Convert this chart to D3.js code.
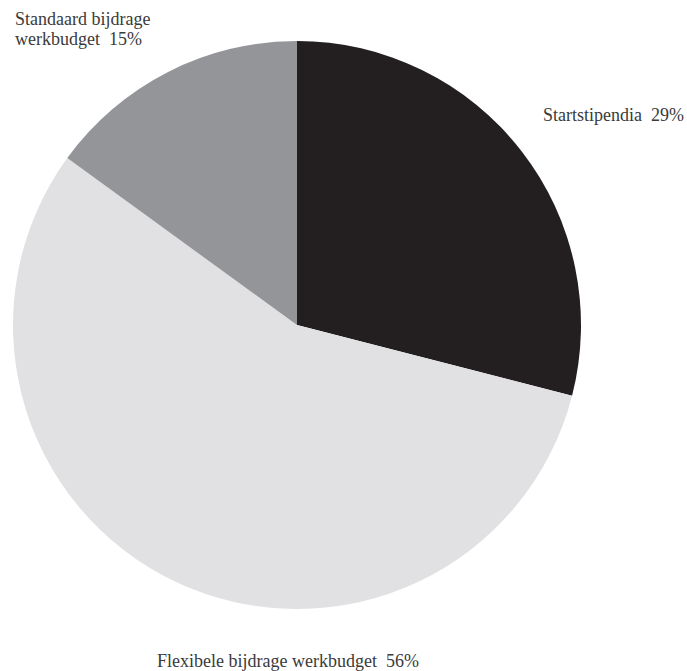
<!DOCTYPE html>
<html>
<head>
<meta charset="utf-8">
<script src="https://cdn.jsdelivr.net/npm/d3@7"></script>
<style>
  body { margin: 0; background: #fff; }
  text { font-family: "Liberation Serif", "DejaVu Serif", serif; fill: #3a3a3a; white-space: pre; }
</style>
</head>
<body>
<svg id="chart"></svg>
<script>
// data
var categories = ["Startstipendia", "Flexibele bijdrage werkbudget", "Standaard bijdrage werkbudget"];
var values = [29, 56, 15];
var colors = ["#231f20", "#e1e1e3", "#939598"];

var width = 687, height = 671;
var cx = 297, cy = 325, radius = 284;

var svg = d3.select("#chart")
    .attr("width", width)
    .attr("height", height);

var g = svg.append("g")
    .attr("transform", "translate(" + cx + "," + cy + ")");

var pie = d3.pie().sort(null).value(function (d) { return d; });
var arc = d3.arc().innerRadius(0).outerRadius(radius);

var slices = pie(values);

g.selectAll("path")
    .data(slices)
    .enter()
    .append("path")
    .attr("d", arc)
    .attr("fill", function (d, i) { return colors[i]; });

// labels: each one hangs off its slice, lines split by hand like the original
var labelLines = [
    ["Startstipendia  29%"],
    ["Flexibele bijdrage werkbudget  56%"],
    ["Standaard bijdrage", "werkbudget  15%"]
];
var labelPos = [
    { x: 543, y: 121, anchor: "start" },
    { x: 157, y: 667, anchor: "start" },
    { x: 15, y: 25, anchor: "start" }
];

labelLines.forEach(function (lines, i) {
    var t = svg.append("text")
        .attr("x", labelPos[i].x)
        .attr("y", labelPos[i].y)
        .attr("text-anchor", labelPos[i].anchor)
        .style("font-size", "18px");
    lines.forEach(function (l, j) {
        t.append("tspan")
            .attr("x", labelPos[i].x)
            .attr("dy", j === 0 ? 0 : 20)
            .text(l);
    });
});
</script>
</body>
</html>
